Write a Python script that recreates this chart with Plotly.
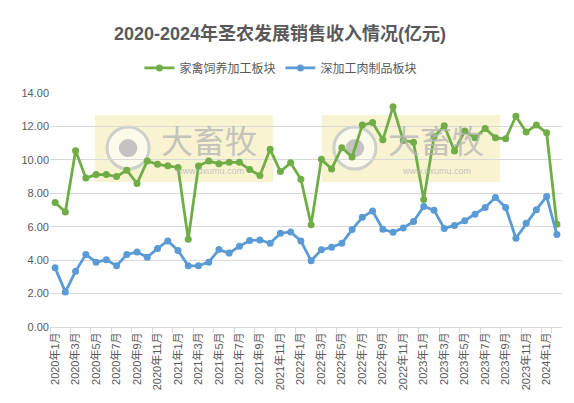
import plotly.graph_objects as go

# months 2020-01 .. 2024-02
months = [f"{y}年{m}月" for y in range(2020, 2025) for m in range(1, 13)][:50]

poultry = [7.45, 6.88, 10.55, 8.92, 9.12, 9.12, 9.0, 9.38, 8.58, 9.93, 9.73, 9.65,
           9.55, 5.25, 9.63, 9.93, 9.77, 9.85, 9.85, 9.42, 9.06, 10.63, 9.3, 9.82,
           8.84, 6.12, 10.03, 9.46, 10.73, 10.17, 12.08, 12.23, 11.2, 13.17, 11.16, 11.06,
           7.63, 11.38, 12.04, 10.53, 11.72, 11.32, 11.88, 11.32, 11.26, 12.61, 11.66, 12.08,
           11.62, 6.14]
processed = [3.54, 2.1, 3.33, 4.34, 3.88, 4.02, 3.66, 4.34, 4.48, 4.18, 4.69, 5.15,
             4.58, 3.66, 3.66, 3.88, 4.63, 4.42, 4.83, 5.17, 5.21, 5.01, 5.61, 5.69,
             5.15, 3.96, 4.62, 4.77, 5.01, 5.83, 6.56, 6.94, 5.85, 5.67, 5.93, 6.31,
             7.21, 6.99, 5.9, 6.08, 6.36, 6.75, 7.15, 7.75, 7.15, 5.31, 6.2, 7.02,
             7.81, 5.53]

GREEN = "#70AD47"
BLUE = "#5B9BD5"
GREY = "#595959"
FONT = "Liberation Sans, Noto Sans CJK SC, sans-serif"

fig = go.Figure()
fig.add_trace(go.Scatter(x=months, y=poultry, mode="lines+markers", name="家禽饲养加工板块",
                         line=dict(color=GREEN, width=2.8), marker=dict(color=GREEN, size=7)))
fig.add_trace(go.Scatter(x=months, y=processed, mode="lines+markers", name="深加工肉制品板块",
                         line=dict(color=BLUE, width=2.8), marker=dict(color=BLUE, size=7)))

# watermark boxes (大畜牧 logo)
for x0, x1 in [(0.088, 0.436), (0.531, 0.879)]:
    fig.add_shape(type="rect", xref="paper", yref="paper", x0=x0, x1=x1, y0=0.62, y1=0.906,
                  fillcolor="rgba(240,228,150,0.45)", line_width=0, layer="below")
    cx = x0 + 0.0645
    fig.add_shape(type="circle", xref="paper", yref="paper", x0=cx - 0.041, x1=cx + 0.041,
                  y0=0.675, y1=0.855, line=dict(color="rgba(200,200,200,0.85)", width=3),
                  fillcolor="rgba(255,255,255,0.55)", layer="below")
    fig.add_shape(type="circle", xref="paper", yref="paper", x0=cx - 0.018, x1=cx + 0.018,
                  y0=0.726, y1=0.803, line_width=0, fillcolor="rgba(185,185,185,0.85)", layer="below")
    fig.add_annotation(xref="paper", yref="paper", x=x0 + 0.223, y=0.805, text="大畜牧",
                       showarrow=False, xanchor="center", yanchor="middle",
                       font=dict(family="Noto Sans CJK SC", size=32, color="rgba(180,180,180,0.75)"))
    fig.add_annotation(xref="paper", yref="paper", x=x0 + 0.223, y=0.665, text="www.dxumu.com",
                       showarrow=False, xanchor="center", yanchor="middle",
                       font=dict(family=FONT, size=9, color="rgba(180,180,180,0.8)"))

# page body adds an 8px margin, so the figure is 8px smaller than the window
fig.update_layout(
    width=566, height=395,
    margin=dict(l=42, r=12, t=85, b=76, autoexpand=False),
    paper_bgcolor="white", plot_bgcolor="white",
    font=dict(family=FONT, color=GREY, size=11),
    title=dict(text="<b>2020-2024年圣农发展销售收入情况(亿元)</b>", x=0.4806, xanchor="center",
               y=0.934, yanchor="middle", font=dict(size=18, color=GREY)),
    legend=dict(orientation="h", x=0.451, xanchor="center", y=1.107, yanchor="middle",
                font=dict(size=12, color=GREY), itemwidth=30),
    showlegend=True,
)
fig.update_xaxes(type="category", tickmode="array", tickvals=months[::2], ticktext=months[::2],
                 tickangle=-90, tickfont=dict(size=11, color=GREY), showgrid=False,
                 showline=True, linecolor="#d9d9d9", ticks="outside", tickson="boundaries",
                 tickcolor="#d9d9d9", ticklen=5, range=[-0.5, 49.5], automargin=False)
fig.update_yaxes(range=[0, 14], dtick=2, tickformat=".2f", showgrid=True, gridcolor="#d9d9d9",
                 zeroline=False, tickfont=dict(size=11, color=GREY), ticks="", showline=False,
                 automargin=False)

fig.write_html("out.html")
